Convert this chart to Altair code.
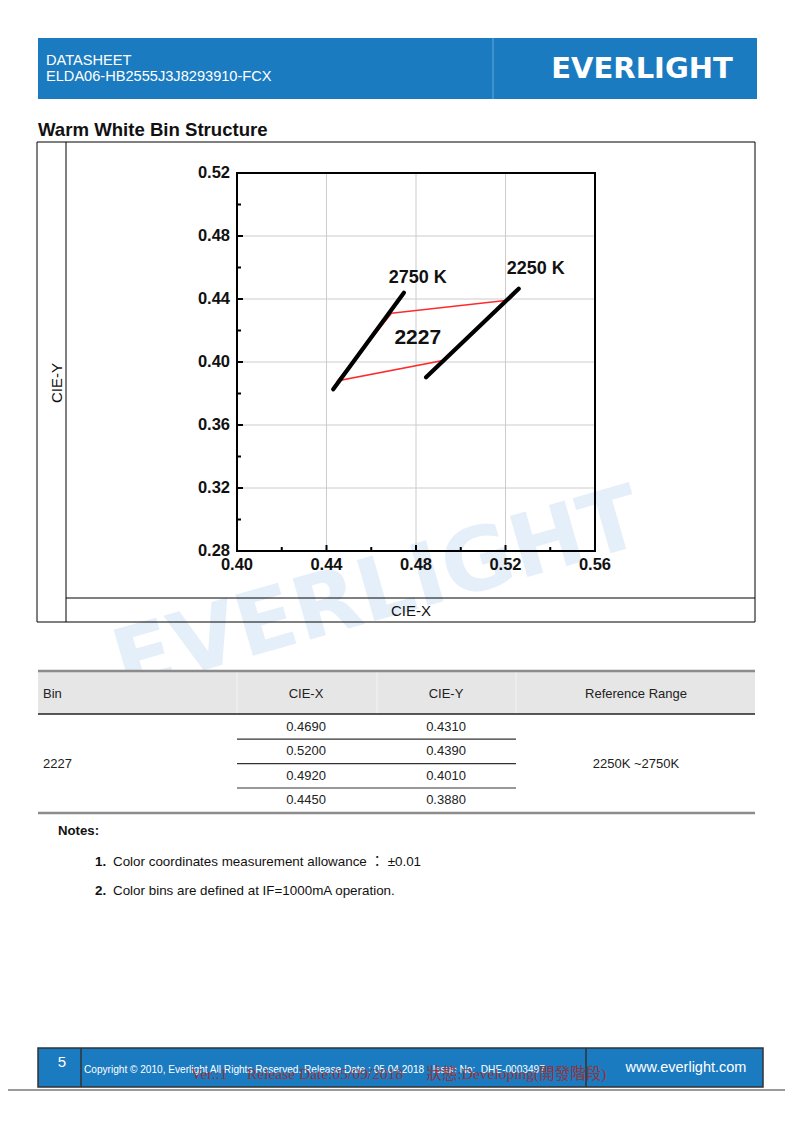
import altair as alt
import pandas as pd

# ---------------- data ----------------
x_major = [0.40, 0.44, 0.48, 0.52, 0.56]
y_major = [0.28, 0.32, 0.36, 0.40, 0.44, 0.48, 0.52]
x_minor = [0.42, 0.46, 0.50, 0.54]
y_minor = [0.30, 0.34, 0.38, 0.42, 0.46, 0.50]
x_tick_labels = ["0.40", "0.44", "0.48", "0.52", "0.56"]
y_tick_labels = ["0.28", "0.32", "0.36", "0.40", "0.44", "0.48", "0.52"]

bin_name = "2227"
bin_x = [0.4690, 0.5200, 0.4920, 0.4450]
bin_y = [0.4310, 0.4390, 0.4010, 0.3880]

cct_names = ["2750 K", "2250 K"]
cct_2750_x = [0.4430, 0.4746]
cct_2750_y = [0.3827, 0.4440]
cct_2250_x = [0.4845, 0.5259]
cct_2250_y = [0.3903, 0.4465]
cct_label_x = [0.4808, 0.5335]
cct_label_y = [0.4502, 0.4559]
bin_label_x = [0.4808]
bin_label_y = [0.4114]

ref_range = "2250K ~2750K"
table_headers = ["Bin", "CIE-X", "CIE-Y", "Reference Range"]
NB = "\u00a0"
notes = ["Color coordinates measurement allowance" + NB + "\uff1a" + NB + "\u00b10.01",
         "Color bins are defined at IF=1000mA operation."]

copyright_txt = ("Copyright \u00a9 2010, Everlight All Rights Reserved. Release Date : 05.04.2018"
                 + NB * 3 + "Issue No:" + NB * 2 + "DHE-0003497")
status_txt = ("Ver.:1" + NB * 5 + "Release Date:05/09/2018" + NB * 6
              + "\u72c0\u614b:Developing(\u958b\u767c\u968e\u6bb5)")

# ---------------- styling / layout ----------------
BLUE = "#1b7bc0"
SANS = "Liberation Sans"
XS = alt.Scale(domain=[x_major[0], x_major[-1]], range=[229, 587], nice=False, zero=False)
YS = alt.Scale(domain=[y_major[0], y_major[-1]], range=[543, 165], nice=False, zero=False)
one = pd.DataFrame({"a": [0]})


def rect(x1, x2, y1, y2, **kw):
    return alt.Chart(one).mark_rect(**kw).encode(
        x=alt.value(x1), x2=alt.value(x2), y=alt.value(y1), y2=alt.value(y2))


def hline(x1, x2, y, color="black", w=1):
    return alt.Chart(one).mark_rule(color=color, strokeWidth=w).encode(
        x=alt.value(x1), x2=alt.value(x2), y=alt.value(y))


def vline(x, y1, y2, color="black", w=1):
    return alt.Chart(one).mark_rule(color=color, strokeWidth=w).encode(
        x=alt.value(x), y=alt.value(y1), y2=alt.value(y2))


def label(txt, x, y, size=13, color="#222222", weight="normal", align="left",
          font=SANS, angle=0, baseline="middle", opacity=1):
    return alt.Chart(one).mark_text(
        text=txt, fontSize=size, color=color, fontWeight=weight, align=align,
        font=font, angle=angle, baseline=baseline, opacity=opacity
    ).encode(x=alt.value(x), y=alt.value(y))


layers = []

# watermark
layers.append(label("EVERLIGHT", 370, 585, size=87, color="#e5eff9", weight="bold",
                    align="center", font="DejaVu Sans", angle=344))

# header
layers.append(rect(30, 749, 30, 91, fill=BLUE))
layers.append(vline(485, 30, 91, color="#6aa7d8", w=1))
layers.append(label("DATASHEET", 38, 53, size=14.6, color="white"))
layers.append(label("ELDA06-HB2555J3J8293910-FCX", 38, 69, size=14.6, color="white"))
layers.append(label("EVERLIGHT", 634, 61, size=29, color="white", weight="bold",
                    align="center", font="DejaVu Sans"))

# title
layers.append(label("Warm White Bin Structure", 30, 122, size=18.6, color="#111111",
                    weight="bold"))

# chart frame
layers.append(rect(29, 747, 134, 614, fill="transparent", stroke="black", strokeWidth=1))
layers.append(vline(58, 134, 614))
layers.append(hline(58, 747, 590))
layers.append(label("CIE-X", 403, 603, size=15, color="#111111", align="center"))
layers.append(label("CIE-Y", 49, 375, size=15, color="#111111", align="center", angle=270))

# grid
gx = pd.DataFrame({"v": x_major[1:-1], "y0": y_major[0], "y1": y_major[-1]})
layers.append(alt.Chart(gx).mark_rule(color="#cccccc", strokeWidth=1).encode(
    x=alt.X("v:Q", scale=XS, axis=None),
    y=alt.Y("y0:Q", scale=YS, axis=None), y2="y1:Q"))
gy = pd.DataFrame({"v": y_major[1:-1], "x0": x_major[0], "x1": x_major[-1]})
layers.append(alt.Chart(gy).mark_rule(color="#cccccc", strokeWidth=1).encode(
    y=alt.Y("v:Q", scale=YS, axis=None),
    x=alt.X("x0:Q", scale=XS, axis=None), x2="x1:Q"))

# ticks (inward)
for vals, ln in ((y_major, 6), (y_minor, 4)):
    d = pd.DataFrame({"v": vals})
    layers.append(alt.Chart(d).mark_rule(color="black", strokeWidth=2).encode(
        y=alt.Y("v:Q", scale=YS, axis=None), x=alt.value(229), x2=alt.value(229 + ln)))
for vals, ln in ((x_major, 6), (x_minor, 4)):
    d = pd.DataFrame({"v": vals})
    layers.append(alt.Chart(d).mark_rule(color="black", strokeWidth=2).encode(
        x=alt.X("v:Q", scale=XS, axis=None), y=alt.value(543), y2=alt.value(543 - ln)))

# plot frame
fr = pd.DataFrame({"x0": [x_major[0]], "x1": [x_major[-1]], "y0": [y_major[0]], "y1": [y_major[-1]]})
layers.append(alt.Chart(fr).mark_rect(fill="transparent", stroke="black", strokeWidth=2).encode(
    x=alt.X("x0:Q", scale=XS, axis=None), x2="x1:Q",
    y=alt.Y("y0:Q", scale=YS, axis=None), y2="y1:Q"))

# tick labels
ly = pd.DataFrame({"v": y_major, "t": y_tick_labels})
layers.append(alt.Chart(ly).mark_text(align="right", baseline="middle", fontSize=16.5,
                                      fontWeight="bold", font=SANS, color="#111111").encode(
    y=alt.Y("v:Q", scale=YS, axis=None), x=alt.value(222), text="t:N"))
lx = pd.DataFrame({"v": x_major, "t": x_tick_labels})
layers.append(alt.Chart(lx).mark_text(align="center", baseline="middle", fontSize=16.5,
                                      fontWeight="bold", font=SANS, color="#111111").encode(
    x=alt.X("v:Q", scale=XS, axis=None), y=alt.value(557), text="t:N"))

# bin polygon (red)
poly = pd.DataFrame({"x": bin_x + bin_x[:1], "y": bin_y + bin_y[:1],
                     "o": list(range(len(bin_x) + 1))})
layers.append(alt.Chart(poly).mark_line(color="#ff2a2a", strokeWidth=1.6).encode(
    x=alt.X("x:Q", scale=XS, axis=None), y=alt.Y("y:Q", scale=YS, axis=None), order="o:Q"))

# isotherm lines
iso = pd.DataFrame({
    "x": cct_2750_x + cct_2250_x,
    "y": cct_2750_y + cct_2250_y,
    "c": [cct_names[0]] * 2 + [cct_names[1]] * 2,
})
layers.append(alt.Chart(iso).mark_line(color="black", strokeWidth=4.2, strokeCap="round").encode(
    x=alt.X("x:Q", scale=XS, axis=None), y=alt.Y("y:Q", scale=YS, axis=None), detail="c:N"))

# annotations
ann = pd.DataFrame({"x": cct_label_x, "y": cct_label_y, "t": cct_names})
layers.append(alt.Chart(ann).mark_text(fontSize=18, fontWeight="bold", font=SANS,
                                       color="#111111", baseline="alphabetic").encode(
    x=alt.X("x:Q", scale=XS, axis=None), y=alt.Y("y:Q", scale=YS, axis=None), text="t:N"))
annb = pd.DataFrame({"x": bin_label_x, "y": bin_label_y, "t": [bin_name]})
layers.append(alt.Chart(annb).mark_text(fontSize=21, fontWeight="bold", font=SANS,
                                        color="#111111", baseline="alphabetic").encode(
    x=alt.X("x:Q", scale=XS, axis=None), y=alt.Y("y:Q", scale=YS, axis=None), text="t:N"))

# ---------------- table ----------------
layers.append(rect(30, 747, 664, 706, fill="#e6e6e6"))
for xx in (229, 369, 508):
    layers.append(vline(xx, 664, 706, color="#f4f4f4", w=1))
layers.append(hline(30, 747, 663, color="#8c8c8c", w=2.5))
layers.append(hline(30, 747, 706, color="#222222", w=1.5))
layers.append(label(table_headers[0], 35, 686))
layers.append(label(table_headers[1], 298, 686, align="center"))
layers.append(label(table_headers[2], 438, 686, align="center"))
layers.append(label(table_headers[3], 628, 686, align="center"))
row_y0, row_h = 719, 24.4
for i, (xv, yv) in enumerate(zip(bin_x, bin_y)):
    yy = row_y0 + i * row_h
    layers.append(label(f"{xv:.4f}", 298, yy, align="center"))
    layers.append(label(f"{yv:.4f}", 438, yy, align="center"))
    if i < len(bin_x) - 1:
        layers.append(hline(229, 508, yy + row_h / 2, color="#333333", w=1.2))
mid = row_y0 + row_h * (len(bin_x) - 1) / 2
layers.append(label(bin_name, 35, mid))
layers.append(label(ref_range, 628, mid, align="center"))
layers.append(hline(30, 747, 805, color="#8c8c8c", w=2.5))

# ---------------- notes ----------------
layers.append(label("Notes:", 50, 823, weight="bold", color="#111111", size=13.2))
for i, n in enumerate(notes):
    yy = 854 + i * 29
    layers.append(label(f"{i + 1}.", 87, yy, weight="bold", color="#111111", size=13.4))
    layers.append(label(n, 105, yy, color="#111111", size=13.4,
                        font="'Liberation Sans', 'Noto Sans CJK TC', sans-serif"))

# ---------------- footer ----------------
layers.append(rect(30, 755, 1040, 1079, fill=BLUE, stroke="#333333", strokeWidth=1.5))
layers.append(vline(73, 1040, 1079, color="#333333", w=1.5))
layers.append(vline(578, 1040, 1079, color="#333333", w=1.5))
layers.append(label("5", 54, 1054, size=15, color="white", align="center"))
layers.append(label(copyright_txt, 76, 1062, size=10.1, color="white"))
layers.append(label("www.everlight.com", 678, 1060, size=14.5, color="white", align="center"))
layers.append(label(status_txt, 183, 1066, size=15.5, color="#a52a2a", opacity=0.85,
                    font="'Liberation Serif', 'Noto Sans CJK TC', serif"))
layers.append(hline(0, 777, 1082, color="#9a9a9a", w=2))

chart = alt.layer(*layers).properties(
    width=777, height=1107, padding=0,
    autosize=alt.AutoSizeParams(type="none"),
    background="white",
).configure_view(stroke="transparent")

chart.save("out.html", embed_options={"renderer": "svg", "actions": False})
